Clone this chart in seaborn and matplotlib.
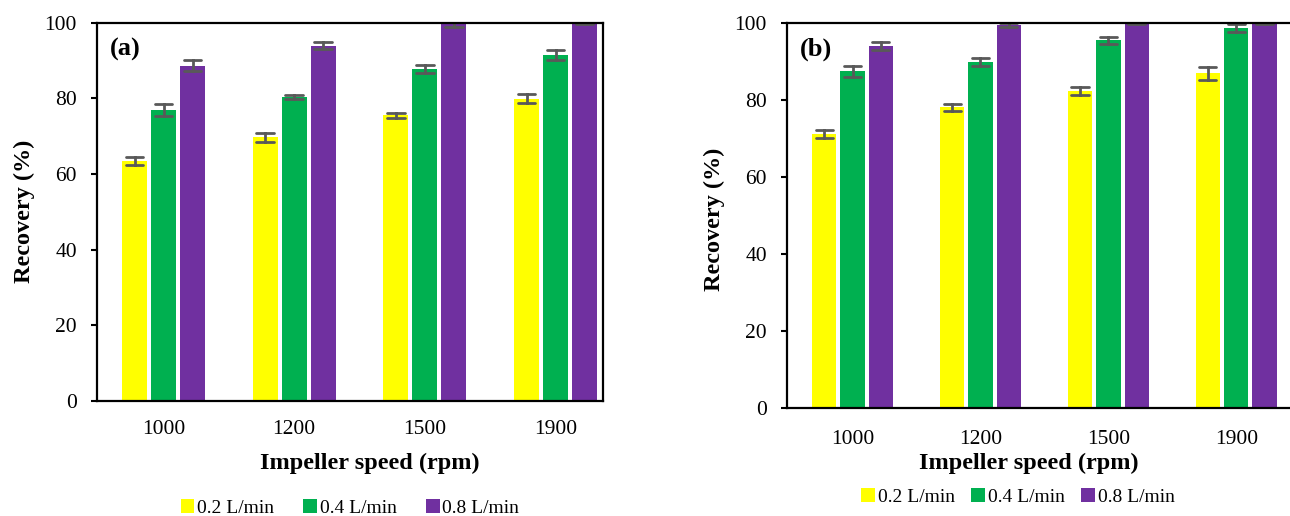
import numpy as np
import pandas as pd
import matplotlib
matplotlib.use("Agg")
import matplotlib.pyplot as plt
import seaborn as sns

speeds = ["1000", "1200", "1500", "1900"]
flows = ["0.2 L/min", "0.4 L/min", "0.8 L/min"]

# panel (a): recovery (%) and error per flow rate, in speed order
a_02 = [63.4, 69.7, 75.5, 79.9]
a_04 = [76.9, 80.3, 87.7, 91.5]
a_08 = [88.6, 93.9, 99.5, 100.0]
a_02_err = [1.06, 1.19, 0.70, 1.10]
a_04_err = [1.63, 0.62, 0.97, 1.28]
a_08_err = [1.41, 1.01, 0.57, 0.50]

# panel (b)
b_02 = [71.1, 78.0, 82.2, 86.8]
b_04 = [87.3, 89.7, 95.4, 98.7]
b_08 = [93.9, 99.4, 100.0, 100.0]
b_02_err = [1.13, 0.95, 1.08, 1.69]
b_04_err = [1.34, 1.08, 0.87, 1.04]
b_08_err = [1.13, 0.50, 0.40, 0.40]

colors = ["#FFFF00", "#00B050", "#7030A0"]
yticks = [0, 20, 40, 60, 80, 100]


def long_frame(vals, errs):
    rows = []
    for flow, v, e in zip(flows, vals, errs):
        for s, vi, ei in zip(speeds, v, e):
            rows.append((s, flow, vi - ei))
            rows.append((s, flow, vi + ei))
    return pd.DataFrame(rows, columns=["speed", "flow", "recovery"])


sns.set_style("white")
plt.rcParams["font.family"] = ["Liberation Serif", "DejaVu Serif"]
for k in ["text.color", "axes.labelcolor", "xtick.color", "ytick.color"]:
    plt.rcParams[k] = "black"

fig = plt.figure(figsize=(12.9, 5.16), dpi=100)
ax_a = fig.add_axes([97 / 1290, 1 - 401 / 516, 506 / 1290, 378.5 / 516])
ax_b = fig.add_axes([787 / 1290, 1 - 408 / 516, 503 / 1290, 385.5 / 516])

panels = [
    (ax_a, long_frame([a_02, a_04, a_08], [a_02_err, a_04_err, a_08_err]), "(a)",
     (-0.509, 3.363), (0.50, -0.283), (0.54, -0.137), 14, 1.5),
    (ax_b, long_frame([b_02, b_04, b_08], [b_02_err, b_04_err, b_08_err]), "(b)",
     (-0.5125, 3.42), (0.459, -0.231), (0.48, -0.116), 15.5, 0.85),
]

for ax, df, tag, xl, legpos, xlabpos, xpad, colsp in panels:
    sns.barplot(
        data=df, x="speed", y="recovery", hue="flow", order=speeds,
        hue_order=flows, palette=colors, saturation=1, width=0.666, gap=0.14,
        estimator="mean", errorbar=lambda x: (x.min(), x.max()),
        capsize=0.4, err_kws={"color": "#595959", "linewidth": 2.0},
        edgecolor="none", ax=ax,
    )
    ax.set_ylim(0, 100)
    ax.set_xlim(*xl)
    ax.set_yticks(yticks)
    ax.set_yticklabels([str(t) for t in yticks])
    ax.tick_params(axis="y", which="both", left=True, direction="out",
                   length=4.5, width=1.5, pad=10, labelsize=15.5, colors="black")
    ax.tick_params(axis="x", length=0, pad=xpad, labelsize=15.5, colors="black")
    for sp in ax.spines.values():
        sp.set_visible(True)
        sp.set_color("black")
        sp.set_linewidth(1.6)
    ax.set_xlabel("Impeller speed (rpm)", fontsize=17.5, fontweight="bold")
    ax.xaxis.set_label_coords(*xlabpos)
    ax.set_ylabel("Recovery (%)", fontsize=17.5, fontweight="bold")
    ax.text(0.025, 0.93, tag, transform=ax.transAxes, fontsize=19,
            fontweight="bold", va="center", ha="left")
    leg = ax.get_legend()
    if leg is not None:
        leg.remove()
    handles = [matplotlib.patches.Patch(facecolor=c, edgecolor="none") for c in colors]
    ax.legend(handles, flows, loc="center", bbox_to_anchor=legpos, ncol=3,
              frameon=False, fontsize=14, handlelength=0.7, handleheight=0.7,
              handletextpad=0.15, columnspacing=colsp)

ax_a.yaxis.set_label_coords(-0.122, 0.5)
ax_b.yaxis.set_label_coords(-0.123, 0.49)
ax_b.spines["right"].set_visible(False)

fig.savefig("out.png", dpi=100)
